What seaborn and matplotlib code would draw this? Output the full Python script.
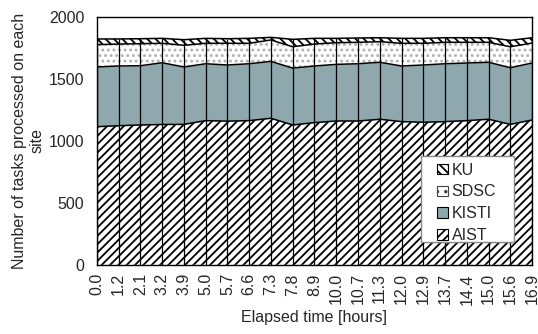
import numpy as np
import pandas as pd
import seaborn as sns
import matplotlib.pyplot as plt
from matplotlib.patches import Patch, Rectangle

# elapsed time labels (equally spaced categories)
time_labels = ["0.0", "1.2", "2.1", "3.2", "3.9", "5.0", "5.7", "6.6", "7.3", "7.8", "8.9",
               "10.0", "10.7", "11.3", "12.0", "12.9", "13.7", "14.4", "15.0", "15.6", "16.9"]

# tasks processed on each site
aist = [1115, 1123, 1129, 1133, 1134, 1164, 1160, 1164, 1183, 1129, 1148,
        1161, 1161, 1175, 1156, 1151, 1156, 1164, 1175, 1134, 1169]
kisti = [482, 482, 478, 498, 463, 459, 453, 459, 459, 459, 457,
         457, 462, 460, 449, 462, 467, 465, 460, 457, 460]
sdsc = [180, 177, 178, 157, 175, 165, 175, 165, 173, 172, 177,
        175, 173, 166, 183, 175, 173, 167, 161, 169, 161]
ku = [46, 41, 40, 40, 45, 40, 37, 40, 21, 60, 46,
      35, 35, 32, 40, 40, 37, 37, 37, 52, 43]

sites = ["AIST", "KISTI", "SDSC", "KU"]
df = pd.DataFrame({"AIST": aist, "KISTI": kisti, "SDSC": sdsc, "KU": ku})
cum = df[sites].cumsum(axis=1)
x = np.arange(len(time_labels))

sns.set_style("white")
plt.rcParams["font.family"] = ["Liberation Sans", "DejaVu Sans"]
plt.rcParams["hatch.linewidth"] = 1.3

fig = plt.figure(figsize=(5.38, 3.34), dpi=100)
ax = fig.add_axes([0.180, 0.207, 0.809, 0.742])

# fill styles for each site
styles = {
    "AIST": dict(facecolor="white", edgecolor="black", hatch="////"),
    "KISTI": dict(facecolor="#8FA8AD", edgecolor="#8FA8AD", hatch=None),
    "SDSC": dict(facecolor="white", edgecolor="#b0b0b0", hatch="..."),
    "KU": dict(facecolor="white", edgecolor="black", hatch="\\\\\\\\"),
}

bottom = np.zeros(len(x))
for s in sites:
    top = cum[s].values
    ax.fill_between(x, bottom, top, linewidth=0, **styles[s])
    bottom = top

# boundary lines
for s in sites:
    sns.lineplot(x=x, y=cum[s].values, ax=ax, color="black", linewidth=1.1)

# drop lines at each point
ax.vlines(x, 0, cum["KU"].values, color="black", linewidth=0.9)

ax.set_xlim(0, len(x) - 1)
ax.set_ylim(0, 2000)
ax.set_yticks([0, 500, 1000, 1500, 2000])
ax.set_xticks(x)
ax.set_xticklabels(time_labels, rotation=90)
ax.tick_params(axis="both", length=0, labelsize=11.5)
ax.tick_params(axis="y", pad=9)
ax.tick_params(axis="x", pad=6)
for sp in ax.spines.values():
    sp.set_color("black")
    sp.set_linewidth(1)

ax.set_xlabel("Elapsed time [hours]", fontsize=11.5, labelpad=4)
ax.set_ylabel("Number of tasks processed on each\nsite", fontsize=11.5, labelpad=3)

# legend box (white with grey border), entries inside
ax.add_patch(Rectangle((0.745, 0.093), 0.214, 0.347, transform=ax.transAxes,
                       facecolor="white", edgecolor="#888888", linewidth=1, zorder=4))
handles = [Patch(linewidth=0.8, label=s, **{**styles[s], "edgecolor": "black"}) for s in reversed(sites)]
handles[1].set_hatch("..")
handles[1].set_edgecolor("#444444")
leg = ax.legend(handles=handles, loc="upper left", bbox_to_anchor=(0.782, 0.412),
                fontsize=11.5, frameon=False,
                handlelength=0.65, handleheight=0.65, handletextpad=0.25,
                labelspacing=0.42, borderpad=0, borderaxespad=0)
leg.set_zorder(5)

plt.savefig("out.png", dpi=100)
